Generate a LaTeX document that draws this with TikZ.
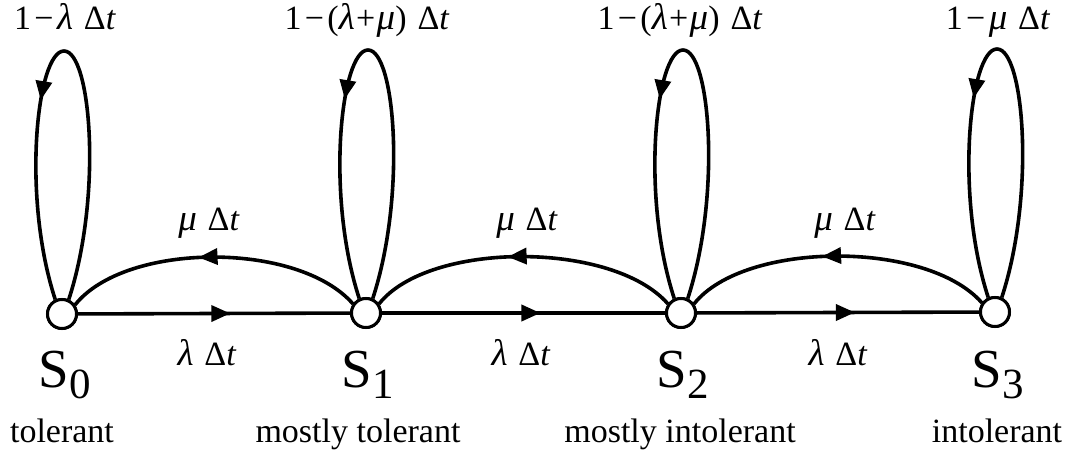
\documentclass[tikz,border=0pt]{standalone}
\usepackage{fontspec}
\setmainfont{Liberation Serif}
\usetikzlibrary{arrows.meta,decorations.markings,calc}
\newcommand\selfloop[2]{% node name, arrow position
  \draw[conn,midarrow=#2] (#1.65) .. controls +(34,-104) and +(27,0) .. ($(#1)+(2,-263)$)
     .. controls +(-27,0) and +(-34,-104) .. (#1.115);}
\newcommand\sname[1]{S\raisebox{-11pt}{\fontsize{43}{43}\selectfont #1}}
\newcommand\mymi{\hspace{0.1em}−\hspace{0.1em}}
\newcommand\mypl{\hspace{0.04em}+\hspace{0.04em}}
\newcommand\mysp{\hspace{0.32em}}
\newcommand\gl[1]{{\fontsize{37}{37}\selectfont\textit{#1}}}
\begin{document}
\begin{tikzpicture}[x=1pt,y=-1pt,
  state/.style={circle,draw,line width=3pt,minimum size=29pt,inner sep=0pt,fill=white},
  conn/.style={line width=3.6pt},
  midarrow/.style={postaction={decorate},decoration={markings,
     mark=at position #1 with {\arrow{Triangle[length=19pt,width=16pt]}}}},
  lbl/.style={font=\fontsize{34}{37}\selectfont,anchor=base,inner sep=0pt},
  slbl/.style={font=\fontsize{55}{58}\selectfont,anchor=base,inner sep=0pt},
  txt/.style={font=\fontsize{34}{38}\selectfont,anchor=base,inner sep=0pt}]
\useasboundingbox (0,0) rectangle (1072,455);
% states
\node[state] (S0) at (62,314) {};
\node[state] (S1) at (366,313) {};
\node[state] (S2) at (681,313) {};
\node[state] (S3) at (995,312) {};
% self loops
\selfloop{S0}{0.61}
\selfloop{S1}{0.61}
\selfloop{S2}{0.61}
\selfloop{S3}{0.61}
% forward transitions
\draw[conn,midarrow=0.56] (S0) -- (S1);
\draw[conn,midarrow=0.56] (S1) -- (S2);
\draw[conn,midarrow=0.56] (S2) -- (S3);
% backward transitions
\draw[conn,midarrow=0.55] (S1.145) .. controls +(-55,-63) and +(50,-63) .. (S0.35);
\draw[conn,midarrow=0.55] (S2.145) .. controls +(-55,-63) and +(50,-63) .. (S1.35);
\draw[conn,midarrow=0.55] (S3.145) .. controls +(-55,-63) and +(50,-63) .. (S2.35);
% redraw states on top
\node[state] at (S0) {};
\node[state] at (S1) {};
\node[state] at (S2) {};
\node[state] at (S3) {};
% loop labels
\node[lbl] (L0) at (65,30) {1\mymi\gl{λ}\mysp Δ\textit{t}};
\node[lbl] (L1) at (367,30) {1\mymi(\gl{λ}\mypl\gl{μ})\mysp Δ\textit{t}};
\node[lbl] (L2) at (680,30) {1\mymi(\gl{λ}\mypl\gl{μ})\mysp Δ\textit{t}};
\node[lbl] (L3) at (998,30) {1\mymi\gl{μ}\mysp Δ\textit{t}};
% transition labels
\node[lbl] (m1) at (209,230) {\gl{μ}\mysp Δ\textit{t}};
\node[lbl] (m2) at (527,230) {\gl{μ}\mysp Δ\textit{t}};
\node[lbl] (m3) at (845,230) {\gl{μ}\mysp Δ\textit{t}};
\node[lbl] (l1) at (207,365) {\gl{λ}\mysp Δ\textit{t}};
\node[lbl] (l2) at (521,365) {\gl{λ}\mysp Δ\textit{t}};
\node[lbl] (l3) at (838,365) {\gl{λ}\mysp Δ\textit{t}};
% state names
\node[slbl] (n0) at (65,387) {\sname{0}};
\node[slbl] (n1) at (368,387) {\sname{1}};
\node[slbl] (n2) at (683,387) {\sname{2}};
\node[slbl] (n3) at (998,387) {\sname{3}};
% descriptions
\node[txt] (d0) at (62,442) {tolerant};
\node[txt] (d1) at (358,442) {mostly tolerant};
\node[txt] (d2) at (680,442) {mostly intolerant};
\node[txt] (d3) at (997,442) {intolerant};
\end{tikzpicture}
\end{document}
